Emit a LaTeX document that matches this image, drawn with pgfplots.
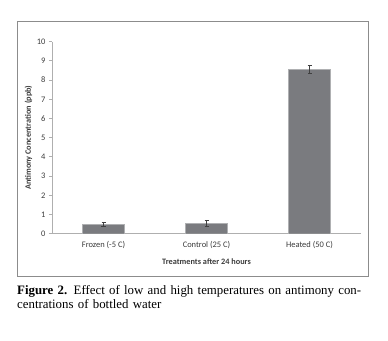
\documentclass[border=0pt]{standalone}
\usepackage{fontspec}
\setmainfont{Liberation Serif}
\newfontfamily\calib{Carlito}
\usepackage{pgfplots}
\pgfplotsset{compat=1.18}
\definecolor{barc}{RGB}{122,123,127}
\definecolor{axc}{RGB}{175,175,175}
\definecolor{txc}{RGB}{60,60,60}
\begin{document}
\begin{tikzpicture}[x=1bp,y=1bp]
\useasboundingbox (0,0) rectangle (388,341);
\fill[white] (0,0) rectangle (388,341);
\draw[line width=1bp, color=black!45] (17,64) rectangle (368,319);
\begin{axis}[
  at={(52bp,107.3bp)}, anchor=south west,
  scale only axis, width=309bp, height=192bp,
  xmin=0.5, xmax=3.5, ymin=0, ymax=10,
  axis x line=bottom, axis y line=left,
  axis line style={-, draw=axc, line width=0.8bp},
  xtick={1,2,3},
  xticklabels={Frozen (-5 C),Control (25 C),Heated (50 C)},
  x tick style={draw=none},
  extra x ticks={1.5,2.5,3.5},
  extra x tick labels={},
  extra x tick style={major tick length=3bp, tick style={draw=axc, line width=0.8bp}, tick align=outside},
  ytick={0,1,...,10},
  y tick style={draw=axc, line width=0.8bp},
  tick align=outside, major tick length=3bp,
  ticklabel style={font=\calib\fontsize{8.5}{9}\selectfont, text=txc},
  /pgf/number format/assume math mode=true,
  xticklabel style={yshift=-1bp},
  xlabel={\textbf{Treatments after 24 hours}},
  ylabel={\textbf{Antimony Concentration (ppb)}},
  label style={font=\calib\fontsize{8.3}{9}\selectfont, text=txc},
  xlabel style={yshift=3bp},
  ylabel style={yshift=-2bp},
  ybar, bar width=0.41,
]
\addplot[fill=barc, draw=barc!60!white, line width=0.4bp,
  error bars/.cd, y dir=both, y explicit,
  error bar style={draw=black!75, line width=0.6bp},
  error mark options={rotate=90, mark size=2bp, draw=black!75, line width=0.6bp}]
  coordinates {(1,0.50) +- (0,0.10) (2,0.53) +- (0,0.15) (3,8.55) +- (0,0.20)};
\end{axis}
\node[anchor=north west, inner sep=0pt, text width=360bp, align=left,
  font=\fontsize{12.9}{14}\selectfont] at (17,56)
  {\textbf{Figure 2.} Effect of low and high temperatures on antimony con-\\centrations of bottled water};
\end{tikzpicture}
\end{document}
